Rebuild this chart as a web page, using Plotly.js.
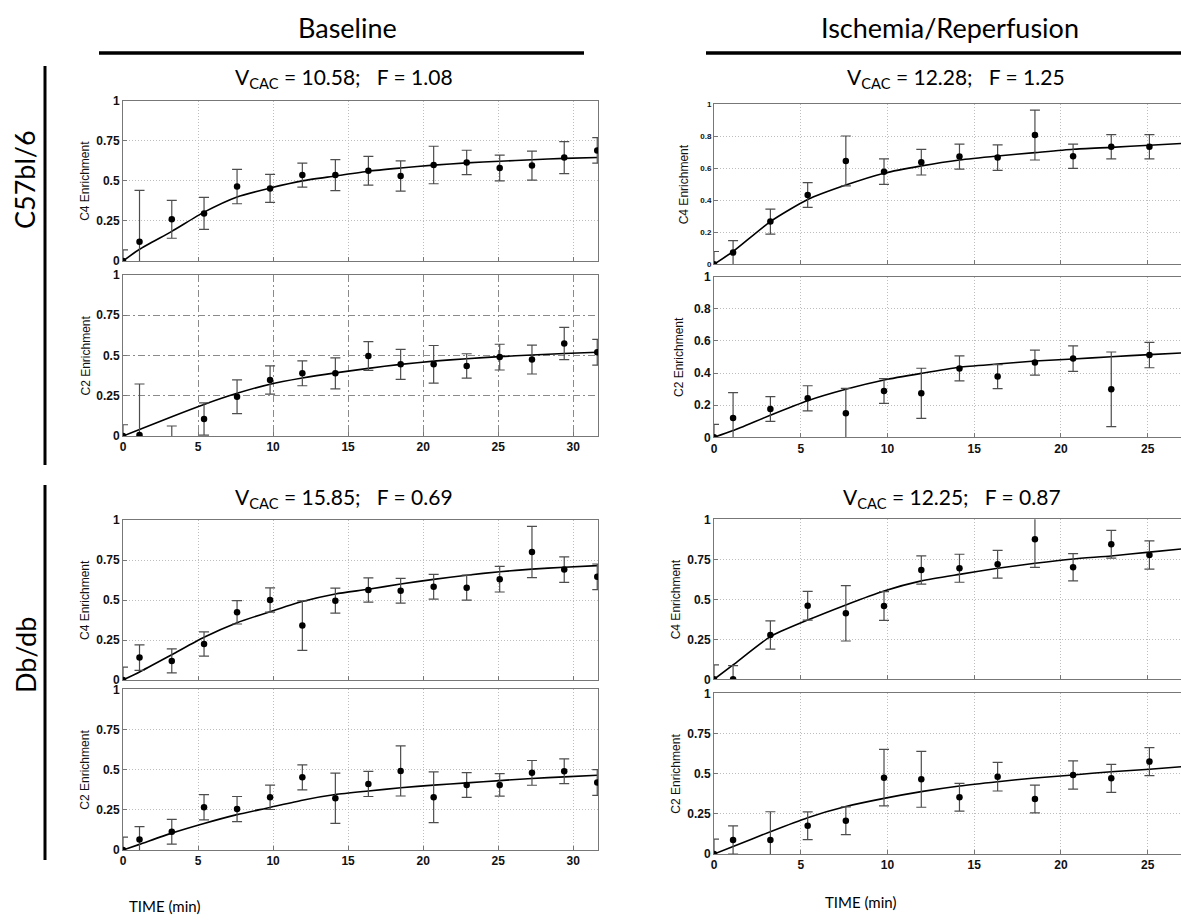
<!DOCTYPE html>
<html>
<head>
<meta charset="utf-8">
<script src="https://cdn.plot.ly/plotly-3.0.1.min.js"></script>
<style>html,body{margin:0;padding:0;background:#fff;overflow:hidden;}#chart{width:1181px;height:924px;}</style>
</head>
<body>
<div id="chart"></div>
<script>
// ---------------- DATA ----------------
const timeLeft  = [0, 1.1, 3.25, 5.4, 7.6, 9.8, 11.95, 14.15, 16.35, 18.5, 20.7, 22.9, 25.1, 27.25, 29.4, 31.6];
const timeRight = [0, 1.1, 3.25, 5.4, 7.6, 9.8, 11.95, 14.15, 16.35, 18.5, 20.7, 22.9, 25.1];
const fitTimeRight = [0, 1.1, 3.25, 5.4, 7.6, 9.8, 11.95, 14.15, 16.35, 18.5, 20.7, 22.9, 25.1, 27.25];

// Baseline, C57bl/6
const baseC57_C4     = [0, 0.12, 0.26, 0.297, 0.464, 0.453, 0.536, 0.536, 0.563, 0.53, 0.599, 0.615, 0.58, 0.595, 0.645, 0.69];
const baseC57_C4_err = [0.07, 0.32, 0.118, 0.1, 0.107, 0.087, 0.075, 0.097, 0.09, 0.094, 0.117, 0.076, 0.08, 0.09, 0.1, 0.08];
const baseC57_C4_fit = [0, 0.073, 0.185, 0.305, 0.4, 0.455, 0.5, 0.53, 0.56, 0.58, 0.598, 0.612, 0.622, 0.632, 0.64, 0.646];
const baseC57_C2     = [0, 0.006, -0.05, 0.106, 0.244, 0.348, 0.389, 0.389, 0.497, 0.445, 0.445, 0.435, 0.49, 0.475, 0.575, 0.52];
const baseC57_C2_err = [0.07, 0.317, 0.112, 0.1, 0.105, 0.088, 0.077, 0.096, 0.089, 0.093, 0.117, 0.076, 0.08, 0.09, 0.1, 0.08];
const baseC57_C2_fit = [0, 0.04, 0.12, 0.196, 0.265, 0.322, 0.36, 0.392, 0.42, 0.445, 0.465, 0.48, 0.493, 0.503, 0.512, 0.52];

// Ischemia/Reperfusion, C57bl/6
const isrC57_C4     = [0, 0.073, 0.267, 0.433, 0.646, 0.579, 0.638, 0.673, 0.667, 0.808, 0.675, 0.735, 0.735];
const isrC57_C4_err = [0.08, 0.075, 0.078, 0.077, 0.156, 0.08, 0.08, 0.078, 0.08, 0.156, 0.076, 0.076, 0.076];
const isrC57_C4_fit = [0, 0.08, 0.267, 0.405, 0.495, 0.569, 0.615, 0.652, 0.677, 0.698, 0.719, 0.731, 0.744, 0.757];
const isrC57_C2     = [0, 0.12, 0.176, 0.243, 0.149, 0.288, 0.274, 0.429, 0.378, 0.465, 0.49, 0.299, 0.512];
const isrC57_C2_err = [0.08, 0.158, 0.077, 0.078, 0.156, 0.077, 0.156, 0.078, 0.075, 0.078, 0.079, 0.232, 0.079];
const isrC57_C2_fit = [0, 0.042, 0.138, 0.228, 0.299, 0.357, 0.398, 0.436, 0.456, 0.475, 0.4875, 0.502, 0.515, 0.527];

// Baseline, Db/db
const baseDb_C4     = [0, 0.14, 0.119, 0.225, 0.423, 0.5, 0.34, 0.496, 0.5625, 0.558, 0.583, 0.577, 0.63, 0.8, 0.69, 0.645];
const baseDb_C4_err = [0.08, 0.08, 0.075, 0.076, 0.073, 0.076, 0.155, 0.078, 0.076, 0.077, 0.077, 0.078, 0.08, 0.16, 0.08, 0.08];
const baseDb_C4_fit = [0, 0.05, 0.158, 0.267, 0.358, 0.427, 0.49, 0.5375, 0.567, 0.6, 0.629, 0.655, 0.677, 0.693, 0.705, 0.715];
const baseDb_C2     = [0, 0.066, 0.114, 0.266, 0.255, 0.328, 0.452, 0.322, 0.411, 0.492, 0.328, 0.405, 0.405, 0.48, 0.49, 0.42];
const baseDb_C2_err = [0.08, 0.079, 0.077, 0.078, 0.078, 0.076, 0.078, 0.156, 0.078, 0.156, 0.158, 0.077, 0.07, 0.077, 0.077, 0.08];
const baseDb_C2_fit = [0, 0.035, 0.105, 0.165, 0.22, 0.265, 0.31, 0.345, 0.367, 0.387, 0.404, 0.418, 0.432, 0.445, 0.455, 0.465];

// Ischemia/Reperfusion, Db/db
const isrDb_C4     = [0, 0.0, 0.277, 0.46, 0.4125, 0.458, 0.683, 0.694, 0.719, 0.875, 0.7, 0.844, 0.777];
const isrDb_C4_err = [0.09, 0.085, 0.088, 0.09, 0.173, 0.09, 0.088, 0.0875, 0.087, 0.175, 0.085, 0.087, 0.088];
const isrDb_C4_fit = [0, 0.09, 0.267, 0.37, 0.465, 0.552, 0.615, 0.656, 0.694, 0.725, 0.752, 0.771, 0.795, 0.818];
const isrDb_C2     = [0, 0.087, 0.087, 0.176, 0.207, 0.475, 0.465, 0.353, 0.481, 0.342, 0.492, 0.471, 0.575];
const isrDb_C2_err = [0.093, 0.088, 0.176, 0.086, 0.086, 0.176, 0.174, 0.086, 0.089, 0.086, 0.088, 0.087, 0.087];
const isrDb_C2_fit = [0, 0.046, 0.139, 0.226, 0.295, 0.346, 0.388, 0.423, 0.45, 0.473, 0.492, 0.512, 0.527, 0.546];

const columnTitles = ['Baseline', 'Ischemia/Reperfusion'];
const rowTitles = ['C57bl/6', 'Db/db'];
const panelTitles = [
  ['10.58', '1.08'], ['12.28', '1.25'],
  ['15.85', '0.69'], ['12.25', '0.87']
];
const yLabelC4 = 'C4 Enrichment';
const yLabelC2 = 'C2 Enrichment';
const xLabel = 'TIME (min)';
const ticksQuarter = [0, 0.25, 0.5, 0.75, 1];
const ticksFifth = [0, 0.2, 0.4, 0.6, 0.8, 1];
const xTicksLeft = [0, 5, 10, 15, 20, 25, 30];
const xTicksRight = [0, 5, 10, 15, 20, 25];

// ---------------- LAYOUT HELPERS ----------------
const W = 1181, H = 924;
const fx = p => p / W;
const fy = p => 1 - p / H;

const panels = [
  {t: timeLeft, ft: timeLeft, m: baseC57_C4, e: baseC57_C4_err, f: baseC57_C4_fit, xd:[123,598], yd:[100.7,261], xr:[0,31.65], yt: ticksQuarter, xt: xTicksLeft, xl:false, lab:yLabelC4, lx:85, small:false, grid:'dot'},
  {t: timeLeft, ft: timeLeft, m: baseC57_C2, e: baseC57_C2_err, f: baseC57_C2_fit, xd:[123,598], yd:[275,436], xr:[0,31.65], yt: ticksQuarter, xt: xTicksLeft, xl:true, lab:yLabelC2, lx:85, small:false, grid:'dashdot'},
  {t: timeRight, ft: fitTimeRight, m: isrC57_C4, e: isrC57_C4_err, f: isrC57_C4_fit, xd:[714,1181], yd:[104.3,264.3], xr:[0,26.92], yt: ticksFifth, xt: xTicksRight, xl:false, lab:yLabelC4, lx:684, small:true, grid:'dot'},
  {t: timeRight, ft: fitTimeRight, m: isrC57_C2, e: isrC57_C2_err, f: isrC57_C2_fit, xd:[714,1181], yd:[276.7,437.3], xr:[0,26.92], yt: ticksFifth, xt: xTicksRight, xl:true, lab:yLabelC2, lx:679, small:false, grid:'dot'},
  {t: timeLeft, ft: timeLeft, m: baseDb_C4, e: baseDb_C4_err, f: baseDb_C4_fit, xd:[123,598], yd:[520,680], xr:[0,31.65], yt: ticksQuarter, xt: xTicksLeft, xl:false, lab:yLabelC4, lx:85, small:false, grid:'dot'},
  {t: timeLeft, ft: timeLeft, m: baseDb_C2, e: baseDb_C2_err, f: baseDb_C2_fit, xd:[123,598], yd:[689.3,850], xr:[0,31.65], yt: ticksQuarter, xt: xTicksLeft, xl:true, lab:yLabelC2, lx:85, small:false, grid:'dot'},
  {t: timeRight, ft: fitTimeRight, m: isrDb_C4, e: isrDb_C4_err, f: isrDb_C4_fit, xd:[714,1181], yd:[519.3,679.3], xr:[0,26.92], yt: ticksQuarter, xt: xTicksRight, xl:false, lab:yLabelC4, lx:676, small:false, grid:'dot'},
  {t: timeRight, ft: fitTimeRight, m: isrDb_C2, e: isrDb_C2_err, f: isrDb_C2_fit, xd:[714,1181], yd:[693.3,854], xr:[0,26.92], yt: ticksQuarter, xt: xTicksRight, xl:true, lab:yLabelC2, lx:676, small:false, grid:'dot'}
];

const traces = [];
const layout = {
  width: W, height: H,
  margin: {l:0, r:0, t:0, b:0},
  paper_bgcolor: '#fff', plot_bgcolor: '#fff',
  showlegend: false,
  annotations: [], shapes: []
};

panels.forEach((p, i) => {
  const n = i + 1;
  const xa = 'x' + (n === 1 ? '' : n), ya = 'y' + (n === 1 ? '' : n);
  const xk = 'xaxis' + (n === 1 ? '' : n), yk = 'yaxis' + (n === 1 ? '' : n);
  const gridCol = p.grid === 'dashdot' ? '#8a8a8a' : '#bdbdbd';
  const gridDash = p.grid === 'dashdot' ? '7px,3px,2px,3px' : '1px,2px';
  const tickFont = {family: 'Liberation Sans, Arial, sans-serif', size: p.small ? 8 : 12, color: '#111', weight: 'bold'};
  layout[xk] = {
    domain: [fx(p.xd[0]), fx(p.xd[1])], range: p.xr, anchor: ya,
    tickvals: p.xt, showticklabels: p.xl, tickfont: tickFont,
    ticks: 'inside', ticklen: 4, tickcolor: '#777',
    showline: true, mirror: true, linecolor: '#777', linewidth: 1,
    showgrid: true, gridcolor: gridCol, griddash: gridDash, gridwidth: 1,
    zeroline: false, fixedrange: true
  };
  layout[yk] = {
    domain: [fy(p.yd[1]), fy(p.yd[0])], range: [0, 1], anchor: xa,
    tickvals: p.yt, tickfont: tickFont,
    ticks: 'inside', ticklen: 4, tickcolor: '#777',
    showline: true, mirror: true, linecolor: '#777', linewidth: 1,
    showgrid: true, gridcolor: gridCol, griddash: gridDash, gridwidth: 1,
    zeroline: false, fixedrange: true
  };
  traces.push({
    type: 'scatter', mode: 'lines', x: p.ft, y: p.f, xaxis: xa, yaxis: ya,
    line: {color: '#000', width: 1.6, shape: 'spline', smoothing: 0.6}, hoverinfo: 'skip'
  });
  traces.push({
    type: 'scatter', mode: 'markers', x: p.t, y: p.m, xaxis: xa, yaxis: ya,
    marker: {color: '#000', size: 6.5},
    error_y: {type: 'data', array: p.e, visible: true, color: '#4d4d4d', thickness: 1.2, width: 5}
  });
  layout.annotations.push({
    xref: 'paper', yref: 'paper', x: fx(p.lx), y: fy((p.yd[0] + p.yd[1]) / 2),
    text: p.lab, textangle: -90, showarrow: false, xanchor: 'center', yanchor: 'middle',
    font: {family: 'Liberation Sans, Arial, sans-serif', size: 12, color: '#111'}
  });
});

const nb = '\u00a0';
const titleFont = {family: 'Lato, sans-serif', size: 21, color: '#000'};
const titlePos = [[344, 78], [956, 78], [344, 498], [952, 498]];
panelTitles.forEach((tt, i) => {
  layout.annotations.push({
    xref: 'paper', yref: 'paper', x: fx(titlePos[i][0]), y: fy(titlePos[i][1]),
    text: 'V<sub>CAC</sub> = ' + tt[0] + ';' + nb + nb + nb + 'F = ' + tt[1],
    showarrow: false, xanchor: 'center', yanchor: 'middle', font: titleFont
  });
});

const headFont = {family: 'Lato, sans-serif', size: 27, color: '#000'};
[[347, columnTitles[0]], [950, columnTitles[1]]].forEach(c => {
  layout.annotations.push({xref:'paper', yref:'paper', x: fx(c[0]), y: fy(28), text: c[1], showarrow:false, xanchor:'center', yanchor:'middle', font: headFont});
});
[[180, rowTitles[0]], [655, rowTitles[1]]].forEach(r => {
  layout.annotations.push({xref:'paper', yref:'paper', x: fx(25), y: fy(r[0]), text: r[1], textangle: -90, showarrow:false, xanchor:'center', yanchor:'middle', font: headFont});
});
[[165, 906], [860, 902]].forEach(t => {
  layout.annotations.push({xref:'paper', yref:'paper', x: fx(t[0]), y: fy(t[1]), text: xLabel, showarrow:false, xanchor:'center', yanchor:'middle', font: {family:'Lato, sans-serif', size: 15, color:'#000'}});
});

// header rules and row bars
layout.shapes.push({type:'line', xref:'paper', yref:'paper', x0: fx(99), x1: fx(584), y0: fy(53), y1: fy(53), line:{color:'#000', width:3.5}});
layout.shapes.push({type:'line', xref:'paper', yref:'paper', x0: fx(706), x1: fx(1181), y0: fy(53), y1: fy(53), line:{color:'#000', width:3.5}});
layout.shapes.push({type:'line', xref:'paper', yref:'paper', x0: fx(45), x1: fx(45), y0: fy(66), y1: fy(465), line:{color:'#000', width:3}});
layout.shapes.push({type:'line', xref:'paper', yref:'paper', x0: fx(45), x1: fx(45), y0: fy(485), y1: fy(860), line:{color:'#000', width:3}});

Plotly.newPlot('chart', traces, layout, {staticPlot: true, displayModeBar: false});
</script>
</body>
</html>
